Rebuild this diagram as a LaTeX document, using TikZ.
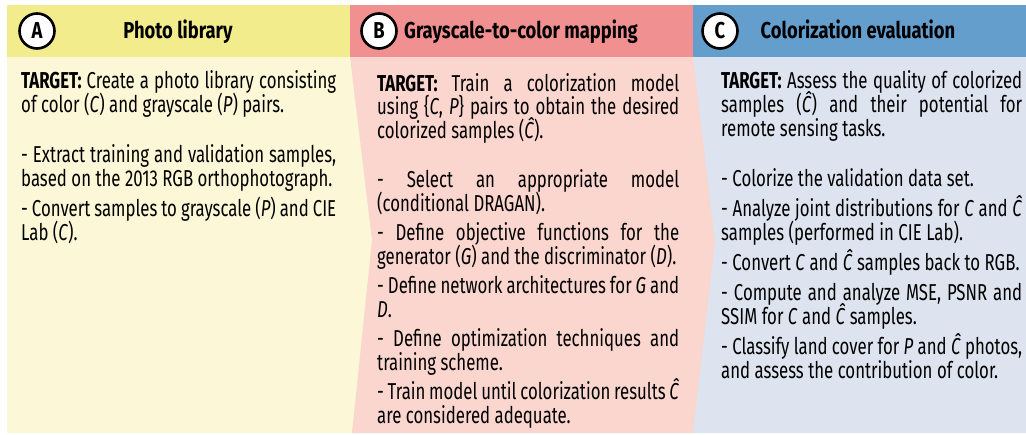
\documentclass[tikz,border=0pt]{standalone}
\usepackage{fontspec}
\setmainfont{Fira Sans}[FakeStretch=0.73]
\newfontfamily\titlefont{Fira Sans}[FakeStretch=0.8]
\definecolor{yhead}{RGB}{243,236,140}
\definecolor{ybody}{RGB}{252,247,214}
\definecolor{phead}{RGB}{240,144,144}
\definecolor{pbody}{RGB}{251,214,206}
\definecolor{bhead}{RGB}{99,158,205}
\definecolor{bbody}{RGB}{221,228,239}
\newcommand\fl[1]{\makebox[\linewidth][s]{#1}\\}
\newcommand\Ch{\textit{Ĉ}}
\newcommand\bodyset{\setlength\parskip{6pt}\lineskiplimit=-100pt\lineskip=0pt}
\tikzset{
  circ/.style={circle,draw=black,line width=2.6pt,fill=white,minimum size=35pt,inner sep=0pt,
    font=\titlefont\bfseries\fontsize{23}{23}\selectfont},
  title/.style={anchor=base,inner sep=0pt,font=\titlefont\bfseries\fontsize{23}{24}\selectfont},
  body/.style={anchor=base west,inner sep=0pt,align=justify,
    font=\fontsize{23}{24}\selectfont},
  bodyb/.style={body,font=\fontsize{23}{23.5}\selectfont}
}
\begin{document}
\begin{tikzpicture}[x=1pt,y=-1pt]
\useasboundingbox (0,0) rectangle (1026,434);
% bodies
\fill[ybody] (7,57) -- (352,57) -- (373,240) -- (353,433) -- (7,433) -- cycle;
\fill[pbody] (350,57) -- (694,57) -- (716,242) -- (694,433) -- (352,433) -- (372,240) -- cycle;
\fill[bbody] (693,57) -- (1026,57) -- (1026,433) -- (693,433) -- (715,242) -- cycle;
% headers
\fill[yhead] (7,5) rectangle (351,57);
\fill[phead] (350,5) rectangle (694,57);
\fill[bhead] (693,5) rectangle (1026,57);
% circles and titles
\node[circ] (ca) at (37,31) {A};
\node[circ] (cb) at (379,31) {B};
\node[circ] (cc) at (720,31) {C};
\node[title] (ta) at (178,38.5) {Photo library};
\node[title] (tb) at (521,38.5) {Grayscale-to-color mapping};
\node[title] (tc) at (858,38.5) {Colorization evaluation};
% body texts
\node[body,text width=315pt] (ba) at (21,88) {\bodyset
\fl{\textbf{TARGET:} Create a photo library consisting}\mbox{of color (\textit{C}) and grayscale (\textit{P}) pairs.}\par\vspace{20pt}
\fl{- Extract training and validation samples,}\mbox{based on the 2013 RGB orthophotograph.}\par
\fl{- Convert samples to grayscale (\textit{P}) and CIE}Lab (\textit{C}).\par};
\node[bodyb,text width=302pt] (bb) at (377,91) {\bodyset
\fl{\textbf{TARGET:} Train a colorization model}\fl{using \{\textit{C}, \textit{P}\} pairs to obtain the desired}colorized samples (\Ch).\par\vspace{20pt}
\fl{- Select an appropriate model}(conditional DRAGAN).\par
\fl{- Define objective functions for the}\mbox{generator (\textit{G}) and the discriminator (\textit{D}).}\par
\fl{- Define network architectures for \textit{G} and}\textit{D}.\par
\fl{- Define optimization techniques and}training scheme.\par
\fl{- Train model until colorization results \Ch}are considered adequate.\par};
\node[body,text width=301pt] (bc) at (721,88) {\bodyset
\fl{\textbf{TARGET:} Assess the quality of colorized}\fl{samples (\Ch) and their potential for}remote sensing tasks.\par\vspace{20pt}
\mbox{- Colorize the validation data set.}\par
\fl{- Analyze joint distributions for \textit{C} and \Ch}\mbox{samples (performed in CIE Lab).}\par
\mbox{- Convert \textit{C} and \Ch{} samples back to RGB.}\par
\fl{- Compute and analyze MSE, PSNR and}\mbox{SSIM for \textit{C} and \Ch{} samples.}\par
\fl{- Classify land cover for \textit{P} and \Ch{} photos,}\mbox{and assess the contribution of color.}\par};
\end{tikzpicture}
\end{document}
